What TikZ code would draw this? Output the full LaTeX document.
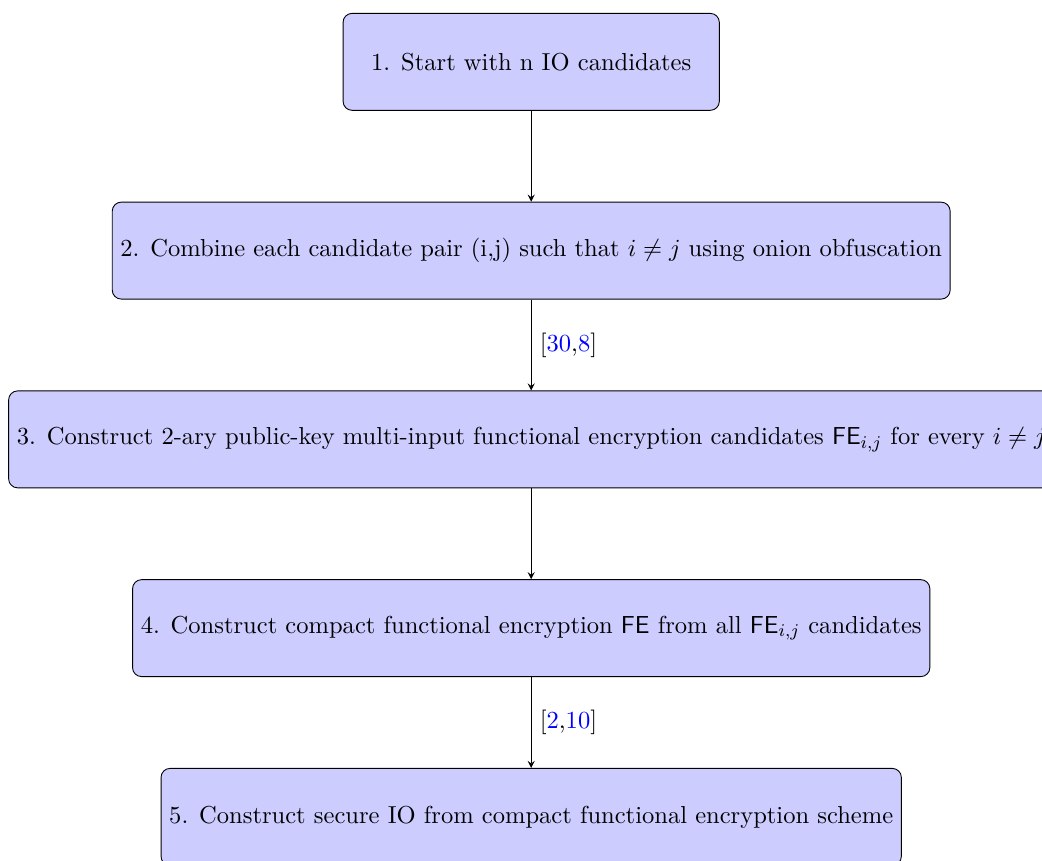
\documentclass[tikz,border=0pt,11pt]{standalone}
\usepackage{tikz}

\begin{document}
\begin{tikzpicture}[passo/.style={draw, rounded corners, fill=blue!20, minimum height=1.52cm, minimum width=5.9cm}]
        % Moldura
        \useasboundingbox (-8.33,0.97) rectangle (8.01,-12.52);

        % Caixas
        \node[passo] (p1) at (0,0) {1. Start with n IO candidates};
        \node[passo] (p2) at (0,-2.96) {2. Combine each candidate pair (i,j) such that $i \neq j$ using onion obfuscation};
        \node[passo] (p3) at (0,-5.92) {3. Construct 2-ary public-key multi-input functional encryption candidates $\mathsf{FE}_{i,j}$ for every $i \neq j$};
        \node[passo] (p4) at (0,-8.88) {4. Construct compact functional encryption $\mathsf{FE}$ from all $\mathsf{FE}_{i,j}$ candidates};
        \node[passo] (p5) at (0,-11.84) {5. Construct secure IO from compact functional encryption scheme};

        % Setas
        \draw[->, >=stealth] (p1) -- (p2);
        \draw[->, >=stealth] (p2) -- node[anchor=west] {[{\color{blue}30},{\color{blue}8}]} (p3);
        \draw[->, >=stealth] (p3) -- (p4);
        \draw[->, >=stealth] (p4) -- node[anchor=west] {[{\color{blue}2},{\color{blue}10}]} (p5);
    \end{tikzpicture}
\end{document}
